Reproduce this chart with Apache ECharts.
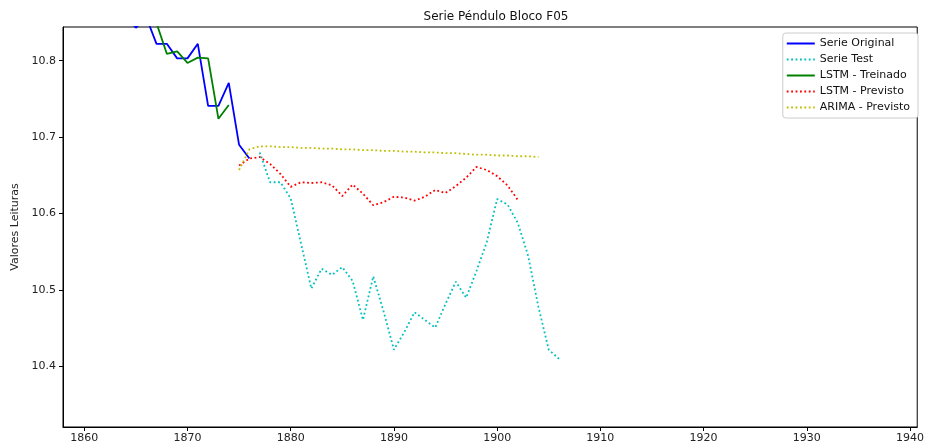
<!DOCTYPE html>
<html>
<head>
<meta charset="utf-8">
<script src="https://cdn.jsdelivr.net/npm/echarts@6/dist/echarts.min.js"></script>
<style>
  html, body { margin: 0; padding: 0; background: #fff; }
  #chart { width: 927px; height: 446px; }
</style>
</head>
<body>
<div id="chart"></div>
<script>
// Pendulum readings, block F05: original series, test series and model outputs.
const originalYears = [1864, 1865, 1866, 1867, 1868, 1869, 1870, 1871, 1872, 1873, 1874, 1875, 1876];
const originalValues = [10.86, 10.843, 10.857, 10.822, 10.822, 10.803, 10.803, 10.822, 10.741, 10.741, 10.771, 10.690, 10.672];

const lstmTrainYears = [1866, 1867, 1868, 1869, 1870, 1871, 1872, 1873, 1874];
const lstmTrainValues = [10.86, 10.849, 10.809, 10.812, 10.797, 10.804, 10.803, 10.724, 10.742];

const testYears = [1877, 1878, 1879, 1880, 1881, 1882, 1883, 1884, 1885, 1886,
  1887, 1888, 1889, 1890, 1891, 1892, 1893, 1894, 1895, 1896,
  1897, 1898, 1899, 1900, 1901, 1902, 1903, 1904, 1905, 1906];
const testValues = [10.680, 10.641, 10.641, 10.620, 10.561, 10.502, 10.528, 10.520, 10.530, 10.512,
  10.461, 10.518, 10.472, 10.422, 10.445, 10.471, 10.461, 10.451, 10.482, 10.511,
  10.490, 10.525, 10.563, 10.619, 10.612, 10.588, 10.545, 10.478, 10.422, 10.410];

const lstmPredYears = [1875, 1876, 1877, 1878, 1879, 1880, 1881, 1882, 1883, 1884,
  1885, 1886, 1887, 1888, 1889, 1890, 1891, 1892, 1893, 1894,
  1895, 1896, 1897, 1898, 1899, 1900, 1901, 1902];
const lstmPredValues = [10.663, 10.672, 10.674, 10.665, 10.652, 10.635, 10.641, 10.640, 10.641, 10.637,
  10.623, 10.638, 10.626, 10.611, 10.615, 10.622, 10.621, 10.617, 10.622, 10.631,
  10.627, 10.636, 10.647, 10.661, 10.657, 10.649, 10.637, 10.618];

const arimaYears = [1875, 1876, 1877, 1878, 1879, 1880, 1881, 1882, 1883, 1884,
  1885, 1886, 1887, 1888, 1889, 1890, 1891, 1892, 1893, 1894,
  1895, 1896, 1897, 1898, 1899, 1900, 1901, 1902, 1903, 1904];
const arimaValues = [10.657, 10.684, 10.688, 10.688, 10.687, 10.687, 10.686, 10.686, 10.685, 10.685,
  10.684, 10.684, 10.683, 10.683, 10.682, 10.682, 10.681, 10.681, 10.680, 10.680,
  10.679, 10.679, 10.678, 10.677, 10.677, 10.676, 10.676, 10.675, 10.675, 10.674];

const xTickValues = [1860, 1870, 1880, 1890, 1900, 1910, 1920, 1930, 1940];
const yTickValues = [10.4, 10.5, 10.6, 10.7, 10.8];

function pairs(xs, ys) { return xs.map((x, i) => [x, ys[i]]); }

const FONT = 'DejaVu Sans';
const dotted = [1.8, 2.6];

function lineSeries(name, xs, ys, color, dashed) {
  return {
    name: name,
    type: 'line',
    data: pairs(xs, ys),
    showSymbol: false,
    symbol: 'none',
    clip: true,
    animation: false,
    lineStyle: { color: color, width: 1.8, type: dashed ? dotted : 'solid', cap: 'butt' },
    itemStyle: { color: color }
  };
}

const chart = echarts.init(document.getElementById('chart'), null, { renderer: 'canvas' });
chart.setOption({
  animation: false,
  backgroundColor: '#fff',
  title: {
    text: 'Serie Péndulo Bloco F05',
    left: 491, top: 6, textAlign: 'center',
    textStyle: { fontFamily: FONT, fontSize: 12, fontWeight: 'normal', color: '#111' }
  },
  grid: {
    left: 63, right: 8, top: 27, bottom: 19,
    show: true, borderColor: '#000', borderWidth: 1, backgroundColor: 'transparent'
  },
  legend: {
    orient: 'vertical', right: 9, top: 33,
    padding: [5, 8, 5, 3], itemGap: 5,
    itemWidth: 28, itemHeight: 12,
    borderColor: '#cccccc', borderWidth: 1, borderRadius: 3,
    backgroundColor: '#fff',
    itemStyle: { opacity: 0, color: 'transparent', borderWidth: 0 },
    textStyle: { fontFamily: FONT, fontSize: 11, color: '#111' },
    data: ['Serie Original', 'Serie Test', 'LSTM - Treinado', 'LSTM - Previsto', 'ARIMA - Previsto']
  },
  xAxis: {
    type: 'value', min: 1857.94, max: 1940.7,
    axisLine: { show: true, lineStyle: { color: '#000', width: 1 } },
    axisTick: { show: true, inside: false, length: 4, lineStyle: { color: '#000' }, customValues: xTickValues },
    axisLabel: { fontFamily: FONT, fontSize: 11, color: '#222', margin: 6, customValues: xTickValues,
      formatter: v => String(Math.round(v)) },
    splitLine: { show: false }
  },
  yAxis: {
    type: 'value', min: 10.321, max: 10.844,
    name: 'Valores Leituras', nameLocation: 'middle', nameGap: 39, nameRotate: 90,
    nameTextStyle: { fontFamily: FONT, fontSize: 11, color: '#222' },
    axisLine: { show: true, lineStyle: { color: '#000', width: 1 } },
    axisTick: { show: true, inside: false, length: 4, lineStyle: { color: '#000' }, customValues: yTickValues },
    axisLabel: { fontFamily: FONT, fontSize: 11, color: '#222', margin: 7, customValues: yTickValues,
      formatter: v => v.toFixed(1) },
    splitLine: { show: false }
  },
  series: [
    lineSeries('Serie Original', originalYears, originalValues, '#0000ff', false),
    lineSeries('Serie Test', testYears, testValues, '#00bfbf', true),
    lineSeries('LSTM - Treinado', lstmTrainYears, lstmTrainValues, '#008000', false),
    lineSeries('LSTM - Previsto', lstmPredYears, lstmPredValues, '#ff0000', true),
    lineSeries('ARIMA - Previsto', arimaYears, arimaValues, '#bfbf00', true)
  ]
});
</script>
</body>
</html>
